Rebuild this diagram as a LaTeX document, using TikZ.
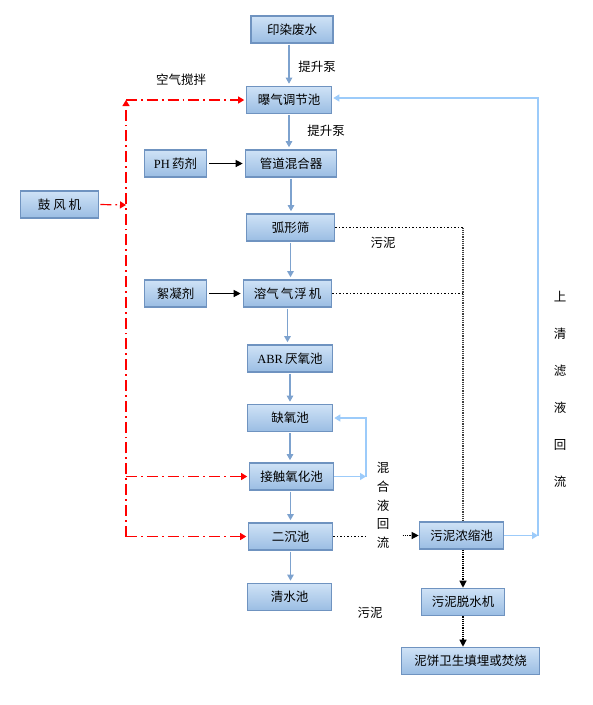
\documentclass[tikz,border=0pt]{standalone}
\usepackage{fontspec}
\setmainfont{Liberation Serif}
\newfontfamily\cjk{Noto Sans CJK SC}
\usetikzlibrary{arrows.meta}
\definecolor{bbord}{HTML}{6F93C0}
\definecolor{btop}{HTML}{CFE2F6}
\definecolor{bbot}{HTML}{9ABDE3}
\definecolor{flowc}{HTML}{7DA2CE}
\definecolor{lblue}{HTML}{9CCBFA}
\begin{document}
\begin{tikzpicture}[x=1pt,y=-1pt,
  box/.style={draw=bbord, line width=1.6pt, top color=btop, bottom color=bbot,
    minimum height=27pt, inner sep=0pt, font=\fontsize{12.5}{14}\selectfont\cjk},
  lbl/.style={font=\fontsize{12.5}{14}\selectfont\cjk, inner sep=0pt},
  flow/.style={draw=flowc, line width=1.1pt, -{Triangle[width=6.5pt,length=6pt]},
    shorten >=2pt, shorten <=0.8pt},
  lb/.style={draw=lblue, line width=1.2pt},
  lbarrow/.style={lb, -{Triangle[width=7pt,length=6pt]}},
  air/.style={draw=red, line width=1.2pt, dash pattern=on 11pt off 4pt on 1.8pt off 4pt,
    -{Triangle[width=7pt,length=6pt]}},
  blk/.style={draw=black, line width=1.2pt, -{Triangle[width=7pt,length=7pt]}},
  dots/.style={draw=black, line width=1.5pt, dotted},
  dotsv/.style={draw=black!75, line width=1.2pt, densely dotted},
  dotsarrow/.style={draw=black, line width=1.2pt, densely dotted, -{Triangle[width=7pt,length=7pt]}}
]
\useasboundingbox (0,0) rectangle (593,705);

% boxes
\node[box, minimum width=82pt] (in) at (292,29.5) {印染废水};
\node[box, minimum width=85pt] (aer) at (289,100) {曝气调节池};
\node[box, minimum width=62pt] (ph) at (175.5,163.5) {{\rmfamily PH}\,药剂};
\node[box, minimum width=91pt] (mix) at (291,163.5) {管道混合器};
\node[box, minimum width=78pt] (blow) at (59.5,204.5) {鼓 风 机};
\node[box, minimum width=88pt] (screen) at (290.5,227.5) {弧形筛};
\node[box, minimum width=62pt] (floc) at (175.5,293.5) {絮凝剂};
\node[box, minimum width=88pt] (float) at (287.5,293.5) {溶气\hspace{2pt}气\hspace{1pt}浮\hspace{2pt}机};
\node[box, minimum width=85pt] (abr) at (290,358.5) {{\rmfamily ABR}\,厌氧池};
\node[box, minimum width=85pt] (anox) at (290,418) {缺氧池};
\node[box, minimum width=84pt] (contact) at (291.5,476.5) {接触氧化池};
\node[box, minimum width=84pt] (sed) at (290.5,536.5) {二沉池};
\node[box, minimum width=84pt] (clear) at (289.5,597) {清水池};
\node[box, minimum width=84pt] (thick) at (461.5,535.5) {污泥浓缩池};
\node[box, minimum width=83pt] (dew) at (463,602) {污泥脱水机};
\node[box, minimum width=138pt] (cake) at (470.5,661) {泥饼卫生填埋或焚烧};

% labels
\node[lbl] (t1) at (317,67) {提升泵};
\node[lbl] (t2) at (326,131) {提升泵};
\node[lbl] (t3) at (181,80) {空气搅拌};
\node[lbl] (t4) at (383,243) {污泥};
\node[lbl] (t5) at (370,613) {污泥};
\node[lbl, align=center, font=\fontsize{12.5}{37}\selectfont\cjk] (t6) at (560,389) {上\\清\\滤\\液\\回\\流};
\node[lbl, align=center, font=\fontsize{12.5}{18.8}\selectfont\cjk] (t7) at (383,505.5) {混\\合\\液\\回\\流};

% main flow
\draw[flow] (in.south -| aer.north) -- (aer.north);
\draw[flow] (aer.south) -- (aer.south |- mix.north);
\draw[flow] (mix.south) -- (mix.south |- screen.north);
\draw[flow] (screen.south) -- (screen.south |- float.north);
\draw[flow] (float.south) -- (float.south |- abr.north);
\draw[flow] (abr.south) -- (anox.north);
\draw[flow] (anox.south) -- (anox.south |- contact.north);
\draw[flow] (contact.south -| sed.north) -- (sed.north);
\draw[flow] (sed.south) -- (sed.south |- clear.north);

% chemicals
\draw[blk, shorten <=2pt, shorten >=2pt] (ph.east) -- (mix.west);
\draw[blk, shorten <=2pt, shorten >=2pt] (floc.east) -- (float.west);

% air
\coordinate (rt) at (126,100);
\coordinate (rm) at (126,205);
\coordinate (rc) at (126,476.5);
\coordinate (rb) at (126,536.5);
\draw[air, shorten <=1pt] (blow.east) -- (rm);
\draw[air] (rb) -- (rt);
\draw[air, shorten >=1.5pt] (rt) -- (aer.west);
\draw[air, shorten >=1.5pt] (rc) -- (contact.west);
\draw[air, shorten >=1.5pt] (rb) -- (sed.west);

% mixed liquor recycle
\coordinate (l1) at (366,476.5);
\coordinate (l2) at (366,418);
\draw[lbarrow] (contact.east) -- (l1);
\draw[lbarrow, shorten >=1pt] (l1) -- (l2) -- (anox.east);

% supernatant recycle
\coordinate (r1) at (538,535.5);
\coordinate (r2) at (538,98);
\draw[lbarrow] (thick.east) -- (r1);
\draw[lbarrow, shorten >=1pt] (r1) -- (r2) -- (aer.east |- r2);

% sludge lines
\coordinate (d1) at (463,227.5);
\coordinate (d2) at (463,293.5);
\draw[dots] (screen.east) -- (d1);
\draw[dotsv] (d1) -- (d1 |- thick.north);
\draw[dots] (float.east) -- (d2);
\draw[dots] (sed.east) -- ++(34,0);
\draw[dotsarrow] ([xshift=-16pt]thick.west) -- (thick.west);
\draw[dotsarrow] (thick.south -| d1) -- (dew.north -| d1);
\draw[dotsarrow] (dew.south -| d1) -- (cake.north -| d1);
\end{tikzpicture}
\end{document}
